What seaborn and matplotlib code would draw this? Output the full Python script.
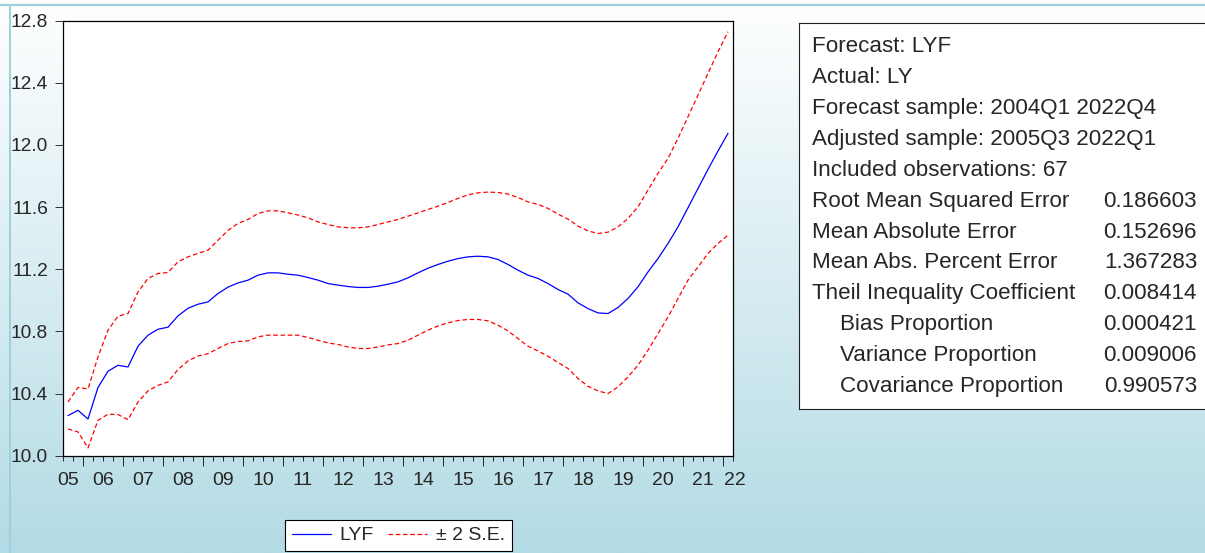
import matplotlib.pyplot as plt
import matplotlib.transforms as mtransforms
from matplotlib.lines import Line2D
import numpy as np
import seaborn as sns

# Forecast of LY (LYF) with a +/- 2 S.E. band, quarterly 2005Q3 - 2022Q1 (67 obs)
lyf = [10.258, 10.292, 10.236, 10.439, 10.544, 10.582, 10.571, 10.705, 10.776, 10.814,
       10.827, 10.900, 10.949, 10.975, 10.990, 11.044, 11.085, 11.112, 11.130, 11.162,
       11.177, 11.177, 11.168, 11.162, 11.147, 11.130, 11.108, 11.098, 11.089, 11.083,
       11.083, 11.091, 11.104, 11.119, 11.145, 11.177, 11.207, 11.231, 11.252, 11.269,
       11.280, 11.284, 11.280, 11.263, 11.231, 11.194, 11.162, 11.141, 11.108, 11.070,
       11.040, 10.984, 10.947, 10.919, 10.915, 10.954, 11.012, 11.087, 11.183, 11.269,
       11.366, 11.473, 11.596, 11.720, 11.843, 11.961, 12.075]
upper = [10.346, 10.439, 10.430, 10.636, 10.808, 10.898, 10.915, 11.054, 11.141, 11.173,
         11.179, 11.248, 11.280, 11.302, 11.323, 11.387, 11.450, 11.495, 11.521, 11.559,
         11.576, 11.576, 11.563, 11.549, 11.531, 11.505, 11.488, 11.473, 11.467, 11.467,
         11.473, 11.488, 11.505, 11.521, 11.542, 11.563, 11.585, 11.606, 11.630, 11.656,
         11.679, 11.692, 11.697, 11.694, 11.684, 11.662, 11.634, 11.617, 11.592, 11.555,
         11.523, 11.478, 11.447, 11.430, 11.439, 11.473, 11.527, 11.602, 11.710, 11.817,
         11.914, 12.043, 12.182, 12.321, 12.461, 12.600, 12.729]
lower = [10.172, 10.153, 10.050, 10.228, 10.267, 10.265, 10.232, 10.346, 10.417, 10.453,
         10.475, 10.555, 10.610, 10.642, 10.657, 10.690, 10.722, 10.735, 10.739, 10.765,
         10.776, 10.776, 10.776, 10.776, 10.761, 10.743, 10.726, 10.716, 10.700, 10.690,
         10.690, 10.700, 10.713, 10.722, 10.743, 10.776, 10.808, 10.835, 10.855, 10.870,
         10.877, 10.877, 10.868, 10.840, 10.803, 10.754, 10.705, 10.674, 10.640, 10.600,
         10.561, 10.497, 10.447, 10.417, 10.400, 10.443, 10.507, 10.582, 10.679, 10.786,
         10.893, 11.012, 11.130, 11.215, 11.302, 11.366, 11.420]
year_labels = ['05', '06', '07', '08', '09', '10', '11', '12', '13', '14',
               '15', '16', '17', '18', '19', '20', '21', '22']
y_ticks = [10.0, 10.4, 10.8, 11.2, 11.6, 12.0, 12.4, 12.8]

header_lines = ['Forecast: LYF', 'Actual: LY', 'Forecast sample: 2004Q1 2022Q4',
                'Adjusted sample: 2005Q3 2022Q1', 'Included observations: 67']
stat_names = ['Root Mean Squared Error', 'Mean Absolute Error', 'Mean Abs. Percent Error',
              'Theil Inequality Coefficient', 'Bias Proportion', 'Variance Proportion',
              'Covariance Proportion']
stat_values = ['0.186603', '0.152696', '1.367283', '0.008414', '0.000421', '0.009006', '0.990573']

W, H = 1205, 553
FONT = ['Liberation Sans', 'DejaVu Sans']

sns.set_style('white')
plt.rcParams['font.family'] = FONT

fig = plt.figure(figsize=(W / 100, H / 100), dpi=100)

# background gradient (white at top to light blue at bottom)
bg = fig.add_axes([0, 0, 1, 1], zorder=-10)
t = np.linspace(0, 1, 256)[:, None, None]
top_c = np.array([1.0, 1.0, 1.0])
bot_c = np.array([179, 219, 229]) / 255
bg.imshow(top_c + (bot_c - top_c) * t, aspect='auto', extent=[0, 1, 0, 1])
bg.axis('off')
fig.add_artist(Line2D([0, 1], [1 - 4.5 / H] * 2, transform=fig.transFigure, color='#9dcfdc', lw=1.6))
fig.add_artist(Line2D([9.5 / W] * 2, [0, 1 - 4.5 / H], transform=fig.transFigure, color='#9dcfdc', lw=1.4))

# main plot
ax = fig.add_axes([63 / W, 1 - 455.7 / H, (733 - 63) / W, (455.7 - 20.7) / H])
ax.set_facecolor('white')
x = np.arange(len(lyf))
sns.lineplot(x=x, y=lyf, ax=ax, color='#0000ff', lw=0.9, label='LYF', estimator=None)
sns.lineplot(x=x, y=upper, ax=ax, color='#ff0000', lw=0.9, linestyle=(0, (3.6, 2.2)),
             label='± 2 S.E.', estimator=None)
sns.lineplot(x=x, y=lower, ax=ax, color='#ff0000', lw=0.9, linestyle=(0, (3.6, 2.2)),
             label='_nolegend_', estimator=None)

ax.set_xlim(-0.5, len(lyf) - 0.5)
ax.set_ylim(10.0, 12.8)
ax.set_yticks(y_ticks)
ax.set_yticklabels([f'{v:.1f}' for v in y_ticks], fontsize=13.8)
ax.tick_params(axis='y', direction='out', length=5.8, width=0.7, pad=5, color='#333333', left=True)

# quarter ticks (minor) and year boundary ticks (major); series starts in 2005Q3
year_bounds = np.arange(1.5, len(lyf), 4)
ax.set_xticks(year_bounds)
ax.set_xticklabels([])
ax.set_xticks(np.arange(-0.5, len(lyf)), minor=True)
ax.tick_params(axis='x', which='major', direction='out', length=7.4, width=0.7, bottom=True)
ax.tick_params(axis='x', which='minor', direction='out', length=3.6, width=0.7, bottom=True)
for s in ax.spines.values():
    s.set_color('black')
    s.set_linewidth(0.9)
ax.set_xlabel('')
ax.set_ylabel('')

label_pos = [year_bounds[0] - 1.5] + [b + 2 for b in year_bounds[:-1]] + [year_bounds[-1] + 1.2]
trans = mtransforms.blended_transform_factory(ax.transData, ax.transAxes)
for pos, lab in zip(label_pos, year_labels):
    ax.text(pos, -16 / 435, lab, transform=trans, ha='center', va='top', fontsize=14)

handles = [ax.lines[0], ax.lines[1]]
ax.legend(handles, ['LYF', '± 2 S.E.'], loc='center', bbox_to_anchor=(398.5 / W, 1 - 535.5 / H),
          bbox_transform=fig.transFigure, ncol=2, fontsize=14, frameon=True, fancybox=False,
          framealpha=1, edgecolor='black', handlelength=2.0, handletextpad=0.45,
          columnspacing=0.75, borderpad=0.35)
ax.get_legend().get_frame().set_linewidth(0.8)

# forecast evaluation box
box = fig.add_axes([799 / W, 1 - 409 / H, (W + 10 - 799) / W, (409 - 23) / H])
box.set_facecolor('white')
box.set_xticks([])
box.set_yticks([])
for s in box.spines.values():
    s.set_color('#222222')
    s.set_linewidth(0.8)


def fig_xy(px, py):
    return px / W, 1 - py / H


rows = header_lines + stat_names
for k, name in enumerate(rows):
    py = 46.7 + 30.9 * k
    indent = 28 if name.endswith('Proportion') else 0
    fig.text(*fig_xy(812 + indent, py), name, ha='left', va='center', fontsize=16.1)
for k, val in enumerate(stat_values):
    py = 46.7 + 30.9 * (k + len(header_lines))
    fig.text(*fig_xy(1197, py), val, ha='right', va='center', fontsize=16.1)

fig.savefig('out.png', dpi=100)
